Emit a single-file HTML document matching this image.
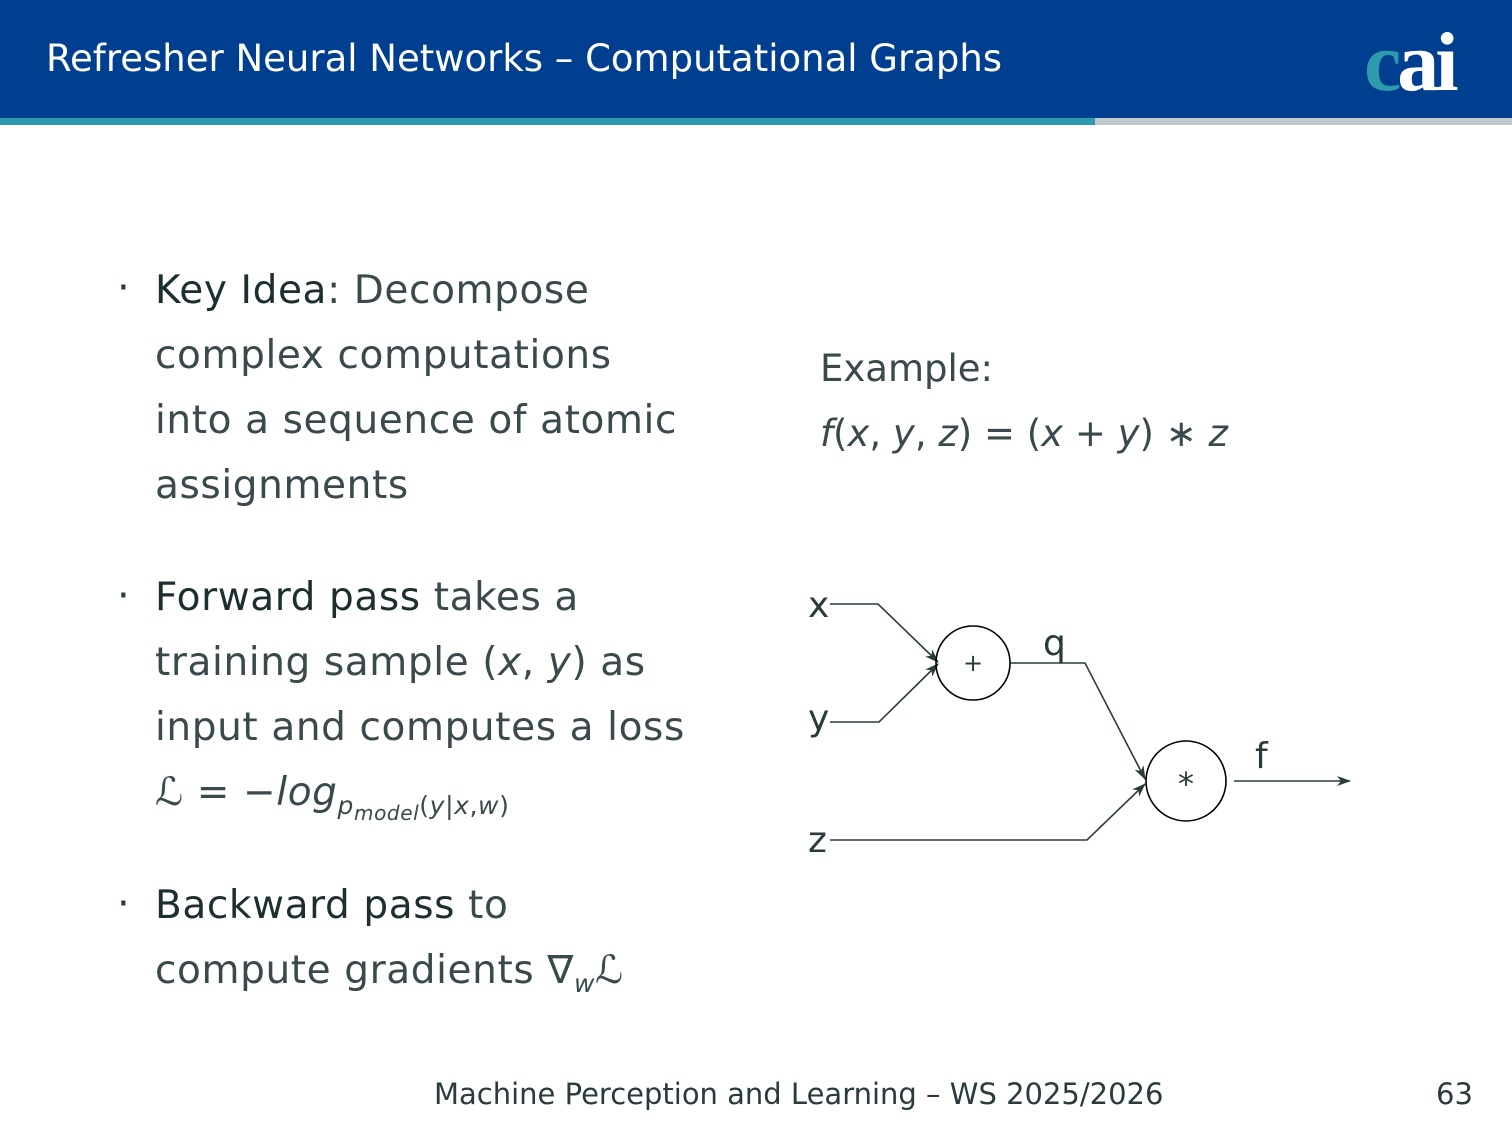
<!DOCTYPE html>
<html><head><meta charset="utf-8"><style>
body{margin:0;width:1512px;height:1134px;position:relative;background:#fff;font-family:"DejaVu Sans","Liberation Sans",sans-serif;color:#2a3b3d;overflow:hidden}
.hdr{position:absolute;left:0;top:0;width:1512px;height:118px;background:#003f8f}
.s1{position:absolute;left:0;top:118px;width:1095px;height:7px;background:#2e9aad}
.s2{position:absolute;left:1095px;top:118px;width:417px;height:7px;background:#c0c8cc}
.t{position:absolute;left:46px;top:37px;font-size:37px;color:#fff}
.logo{position:absolute;left:1364px;top:14px;font-family:"Liberation Serif",serif;font-weight:bold;font-size:84px;color:#fff;letter-spacing:-4px}
.logo span{color:#2e9aad}
.b{position:absolute;font-size:39px;letter-spacing:0.6px;line-height:65px;left:155px;color:#3a4a4c}
.ex{position:absolute;font-size:37px;line-height:65px;left:820px;top:336px;color:#3a4a4c}
.dot{position:absolute;left:117px;font-size:40px;line-height:40px}
.m{font-style:italic}
.k{color:#1d2e30}
.ft{position:absolute;top:1077px;font-size:29px;color:#2a3b3d}
</style></head><body>
<div class="hdr"></div><div class="s1"></div><div class="s2"></div>
<div class="t">Refresher Neural Networks – Computational Graphs</div>
<div class="logo"><span>c</span>ai</div>

<div class="dot" style="top:268px">·</div>
<div class="b" style="top:258px"><span class="k">Key Idea</span>: Decompose<br>complex computations<br>into a sequence of atomic<br>assignments</div>
<div class="dot" style="top:576px">·</div>
<div class="b" style="top:565px"><span class="k">Forward pass</span> takes a<br>training sample (<span class="m">x</span>, <span class="m">y</span>) as<br>input and computes a loss<br><span class="m">ℒ</span> = −<span class="m">log</span><sub style="font-size:25px"><span class="m">p<sub style="font-size:20px">model</sub></span>(<span class="m">y</span>|<span class="m">x</span>,<span class="m">w</span>)</sub></div>
<div class="dot" style="top:884px">·</div>
<div class="b" style="top:873px"><span class="k">Backward pass</span> to<br>compute gradients ∇<sub class="m" style="font-size:25px">w</sub><span class="m">ℒ</span></div>

<div class="ex">Example:<br><span class="m">f</span>(<span class="m">x</span>, <span class="m">y</span>, <span class="m">z</span>) = (<span class="m">x</span> + <span class="m">y</span>) ∗ <span class="m">z</span></div>

<svg style="position:absolute;left:0;top:0" width="1512" height="1134">
<defs><marker id="a" markerWidth="14" markerHeight="12" refX="13" refY="6" orient="auto" markerUnits="userSpaceOnUse"><path d="M0,1 L14,6 L0,11 L4,6z" fill="#2a3b3d"/></marker></defs>
<g fill="none" stroke="#2a3b3d" stroke-width="1.6">
<polyline points="830,604 878,604 938,662" marker-end="url(#a)"/>
<polyline points="830,722 879,722 938,664" marker-end="url(#a)"/>
<polyline points="1010,663 1085,663 1145,779" marker-end="url(#a)"/>
<polyline points="830,840 1087,840 1145,784" marker-end="url(#a)"/>
<line x1="1234" y1="781" x2="1350" y2="781" marker-end="url(#a)"/>
<circle cx="973" cy="663" r="37" stroke="#000"/>
<circle cx="1186" cy="781" r="40" stroke="#000"/>
</g>
<g fill="#2a3b3d" font-family="DejaVu Sans,sans-serif">
<text x="808" y="617" font-size="36">x</text>
<text x="808" y="730" font-size="36">y</text>
<text x="808" y="852" font-size="36">z</text>
<text x="1043" y="655" font-size="36">q</text>
<text x="1255" y="768" font-size="36">f</text>
<text x="973" y="671" font-size="24" text-anchor="middle">+</text>
<text x="1186" y="795" font-size="32" text-anchor="middle">*</text>
</g>
</svg>

<div class="ft" style="left:434px">Machine Perception and Learning – WS 2025/2026</div>
<div class="ft" style="left:1436px">63</div>
</body></html>
